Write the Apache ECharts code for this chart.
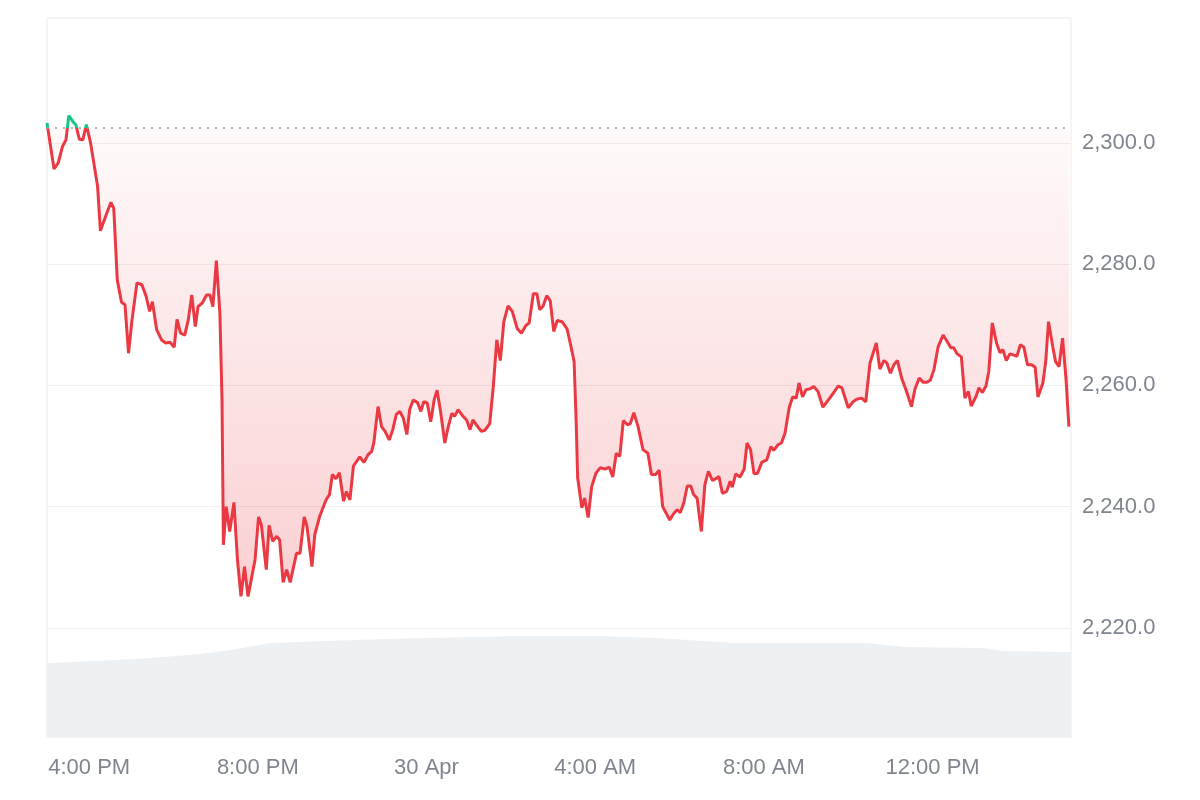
<!DOCTYPE html>
<html>
<head>
<meta charset="utf-8">
<title>Price chart</title>
<script src="https://cdn.jsdelivr.net/npm/echarts@6/dist/echarts.min.js"></script>
<style>
  html, body { margin: 0; padding: 0; background: #fff; }
  #chart { width: 1200px; height: 800px; }
</style>
</head>
<body>
<div id="chart"></div>
<script>
// minutes after 3:00 PM (29 Apr)
var minutes = [0,10,16,22,27,31,37,41,46,51,56,62,72,76,85,91,95,100,106,111,116,121,128,135,141,146,150,156,163,169,175,181,185,190,196,201,206,211,215,221,227,232,236,241,246,249,251,255,260,266,271,276,281,286,296,301,305,312,316,321,327,331,336,341,346,355,360,366,370,377,381,388,397,402,406,411,416,422,426,431,436,445,451,457,462,465,471,476,481,487,492,497,502,507,512,516,521,527,532,536,541,546,551,555,560,566,571,576,580,585,592,597,602,606,611,618,623,630,635,640,645,650,656,662,669,675,681,686,692,697,701,706,711,716,721,726,733,740,745,750,753,755,761,765,770,775,781,787,794,800,805,810,815,820,826,830,835,841,848,855,860,866,871,876,881,886,892,897,901,906,911,916,920,925,931,936,941,947,953,956,961,967,972,975,980,986,992,996,1001,1006,1011,1017,1024,1030,1034,1040,1045,1050,1056,1061,1066,1070,1075,1080,1085,1091,1097,1104,1115,1126,1131,1140,1147,1152,1159,1165,1171,1180,1185,1191,1195,1200,1205,1210,1216,1223,1230,1235,1241,1247,1252,1257,1262,1268,1275,1281,1286,1290,1295,1301,1306,1311,1315,1322,1326,1331,1336,1340,1345,1351,1356,1360,1365,1370,1376,1380,1385,1390,1395,1401,1406,1410,1417,1421,1425,1431,1435,1440,1445,1450,1454];
var prices = [2303.3,2295.7,2296.7,2299.4,2300.5,2304.5,2303.5,2303.0,2300.6,2300.5,
  2303.0,2300.0,2292.8,2285.5,2288.4,2290.2,2289.2,2277.4,2273.7,2273.3,
  2265.3,2270.8,2276.9,2276.6,2274.7,2272.2,2273.8,2269.2,2267.5,2267.0,
  2267.1,2266.3,2270.9,2268.6,2268.3,2270.8,2274.9,2269.7,2273.0,2273.6,
  2274.9,2274.9,2273.0,2280.6,2271.9,2257.6,2233.7,2240.0,2235.9,2240.7,
  2231.2,2225.2,2230.1,2225.2,2231.2,2238.3,2237.0,2229.6,2236.9,2234.3,
  2235.1,2234.5,2227.5,2229.6,2227.5,2232.3,2232.3,2238.3,2236.7,2230.1,
  2235.4,2238.4,2241.1,2242.0,2245.3,2244.6,2245.6,2240.9,2242.5,2241.1,
  2246.7,2248.2,2247.3,2248.6,2249.1,2250.5,2256.5,2253.2,2252.4,2251.0,
  2252.7,2255.2,2255.7,2254.6,2251.9,2256.0,2257.6,2257.2,2255.7,2257.3,
  2257.1,2254.0,2257.7,2259.2,2255.7,2250.5,2253.2,2255.4,2254.9,2256.0,
  2254.9,2254.3,2252.7,2254.3,2253.5,2252.4,2252.6,2253.7,2259.8,2267.5,
  2264.1,2270.5,2273.1,2272.2,2269.4,2268.6,2269.8,2270.3,2275.1,2275.1,
  2272.5,2273.1,2274.8,2274.0,2268.9,2270.7,2270.5,2269.3,2266.7,2263.9,
  2253.8,2244.8,2239.8,2241.4,2238.2,2243.3,2245.5,2246.4,2246.2,2246.5,
  2244.9,2248.8,2248.3,2254.2,2253.5,2253.7,2255.5,2253.2,2249.4,2248.8,
  2245.3,2245.3,2246.0,2240.0,2238.9,2237.8,2238.9,2239.5,2239.0,2240.6,
  2243.4,2243.4,2242.0,2241.4,2235.9,2243.6,2245.8,2244.3,2244.7,2245.0,
  2242.2,2242.5,2244.2,2243.2,2245.4,2244.9,2246.2,2250.5,2249.4,2245.4,
  2245.5,2247.3,2247.7,2249.9,2249.3,2250.2,2250.5,2252.1,2256.3,2258.1,
  2257.9,2260.4,2258.1,2259.3,2259.4,2259.8,2259.0,2256.4,2258.1,2259.9,
  2259.6,2256.3,2257.3,2257.7,2257.9,2257.3,2263.7,2267.0,2262.7,2264.1,
  2263.7,2262.0,2263.4,2264.1,2261.2,2259.0,2256.5,2259.4,2261.2,2260.5,
  2260.5,2260.9,2262.6,2266.4,2268.3,2267.2,2266.2,2266.2,2265.2,2264.7,
  2257.9,2259.0,2256.6,2258.2,2259.6,2258.8,2259.9,2262.3,2270.3,2267.0,
  2265.4,2265.9,2264.1,2265.2,2265.0,2264.8,2266.7,2266.3,2263.4,2263.4,
  2263.0,2258.1,2260.4,2263.9,2270.5,2266.4,2263.9,2263.1,2267.8,2260.9,
  2253.2];
var openPrice = 2302.5;

// trading volume (billions), same time base
var volMinutes = [0,98,147,218,262,317,479,670,787,868,977,1168,1222,1332,1359,1457];
var volumes = [7.4,7.7,7.9,8.3,8.7,9.4,9.8,10.1,10.1,9.9,9.4,9.4,9.0,8.9,8.6,8.5];

var xTickMinutes = [60,300,540,780,1020,1260];
var xTickLabels = ['4:00 PM','8:00 PM','30 Apr','4:00 AM','8:00 AM','12:00 PM'];
var yTickValues = [2220,2240,2260,2280,2300];
var endMinute = 1457;

var n = Math.min(minutes.length, prices.length);
var priceData = [];
// [value, minute] order so that stacking happens on the price dimension
var baseData = [];
var gapData = [];
for (var i = 0; i < n; i++) {
    priceData.push([minutes[i], prices[i]]);
    baseData.push([prices[i], minutes[i]]);
    gapData.push([+(openPrice - prices[i]).toFixed(2), minutes[i]]);
}
var volData = volMinutes.map(function (m, i) { return [m, volumes[i]]; });

var labelColor = '#7f848f';
var labelFont = 'Liberation Sans, Arial, sans-serif';
var myChart = echarts.init(document.getElementById('chart'));
var option = {
    animation: false,
    backgroundColor: '#ffffff',
    grid: {
        left: 47,
        right: 129,
        top: 18,
        bottom: 63,
        show: true,
        borderColor: '#ebebeb',
        borderWidth: 1,
        backgroundColor: 'transparent'
    },
    xAxis: {
        type: 'value',
        min: 0,
        max: endMinute,
        axisLine: { show: false },
        axisTick: { show: false },
        splitLine: { show: false },
        axisLabel: {
            customValues: xTickMinutes,
            margin: 20,
            color: labelColor,
            fontSize: 22,
            fontFamily: labelFont,
            formatter: function (v) {
                var k = xTickMinutes.indexOf(Math.round(v));
                return k >= 0 ? xTickLabels[k] : '';
            }
        }
    },
    yAxis: [
        {
            type: 'value',
            position: 'right',
            min: 2202,
            max: 2320.6,
            axisLine: { show: false },
            axisTick: { show: false, customValues: yTickValues },
            splitLine: { show: true, lineStyle: { color: '#efefef', width: 1 } },
            axisLabel: {
                customValues: yTickValues,
                margin: 11,
                color: labelColor,
                fontSize: 22,
                fontFamily: labelFont,
                formatter: function (v) {
                    return v.toLocaleString('en-US', { minimumFractionDigits: 1, maximumFractionDigits: 1 });
                }
            }
        },
        {
            type: 'value',
            min: 0,
            max: 71.9,
            show: false,
            splitLine: { show: false }
        }
    ],
    visualMap: {
        show: false,
        type: 'piecewise',
        seriesIndex: 3,
        dimension: 1,
        pieces: [
            { gt: openPrice, lte: 2400, color: '#16c784' },
            { gte: 2100, lte: openPrice, color: '#ea3943' }
        ]
    },
    series: [
        {
            name: 'Volume',
            type: 'line',
            yAxisIndex: 1,
            data: volData,
            symbol: 'none',
            silent: true,
            lineStyle: { width: 0 },
            itemStyle: { color: '#eef1f4' },
            areaStyle: { color: '#eef1f4', opacity: 1 },
            z: 1
        },
        {
            // invisible base for the band between price and open
            name: 'Base',
            type: 'line',
            stack: 'band',
            stackStrategy: 'all',
            data: baseData,
            encode: { x: 1, y: 0 },
            symbol: 'none',
            silent: true,
            lineStyle: { width: 0, opacity: 0 },
            z: 2
        },
        {
            name: 'Band',
            type: 'line',
            stack: 'band',
            stackStrategy: 'all',
            data: gapData,
            encode: { x: 1, y: 0 },
            symbol: 'none',
            silent: true,
            lineStyle: { width: 0, opacity: 0 },
            areaStyle: {
                opacity: 1,
                color: new echarts.graphic.LinearGradient(0, 0, 0, 1, [
                    { offset: 0, color: 'rgba(234,57,67,0.02)' },
                    { offset: 1, color: 'rgba(234,57,67,0.24)' }
                ])
            },
            markLine: {
                silent: true,
                symbol: 'none',
                label: { show: false },
                lineStyle: { color: '#9a9ea6', type: [2, 6], width: 1.5 },
                data: [{ yAxis: openPrice }]
            },
            z: 2
        },
        {
            name: 'Price',
            type: 'line',
            data: priceData,
            symbol: 'none',
            lineStyle: { width: 3 },
            z: 3
        }
    ]
};
myChart.setOption(option);
</script>
</body>
</html>
